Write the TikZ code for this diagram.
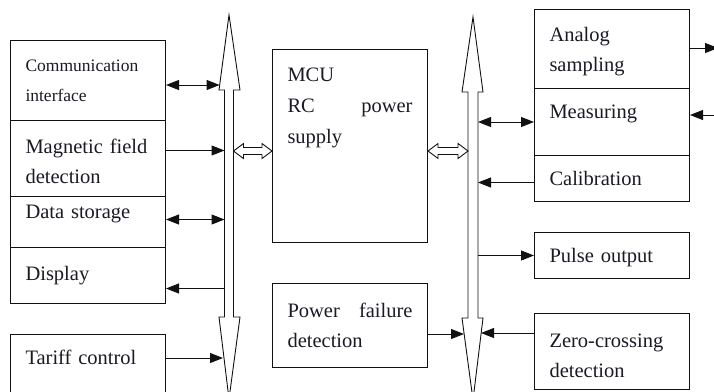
\documentclass[tikz,border=0pt]{standalone}
\usepackage{fontspec}
\setmainfont{Liberation Serif}
\usepackage{tikz}
\usetikzlibrary{arrows.meta, positioning, calc}
\definecolor{LineInk}{HTML}{111111}
\definecolor{TextInk}{HTML}{1A1A24}

\begin{document}
\begin{tikzpicture}[
    x=1pt, y=-1pt,
    line width=1pt,
    blk/.style={
      rectangle,
      draw=LineInk,
      fill=white,
      anchor=north west,
      inner xsep=15pt,
      inner ysep=0pt,
      text width=125pt,
      align=left,
      text=TextInk,
      font=\fontsize{20.5pt}{30pt}\selectfont,
    },
    txt/.style={
      inner sep=0pt,
      text width=125pt,
      align=left,
      text=TextInk,
      font=\fontsize{20.5pt}{31pt}\selectfont,
    },
    bus/.style={draw=LineInk, fill=white, line width=0.9pt, line join=miter},
    sig/.style={draw=LineInk, -{Triangle[length=13pt,width=10pt]}},
    duo/.style={draw=LineInk, {Triangle[length=13pt,width=10pt]}-{Triangle[length=13pt,width=10pt]}},
    fat/.style={draw=LineInk, fill=white, line width=0.9pt,
      to path={let \p1=(\tikztostart), \p2=(\tikztotarget) in
        (\x1,\y1) -- ++(10pt,7.5pt) -- ++(0,-4pt) -- (\x2-10pt,\y1+3.5pt) -- ++(0,4pt)
        -- (\x2,\y2) -- ++(-10pt,-7.5pt) -- ++(0,4pt) -- (\x1+10pt,\y1-3.5pt) -- ++(0,-4pt) -- cycle}},
  ]
    \useasboundingbox (0,0) rectangle (714,391);
    \clip (0,0) rectangle (714,391);

    % left column
    \node[blk, minimum height=80pt, font=\fontsize{17.5pt}{30pt}\selectfont] (comm) at (10,40) {Communication\\interface};
    \node[blk, minimum height=76pt, text height=20pt] (magn) at (10,120) {Magnetic field\\detection};
    \node[blk, minimum height=51pt, text depth=20.5pt] (stor) at (10,196) {Data storage};
    \node[blk, minimum height=56pt] (disp) at (10,247) {Display};
    \node[blk, minimum height=62pt, text depth=16pt] (tariff) at (10,334) {Tariff control};

    % middle column
    \node[blk, minimum height=193pt] (mcu) at (272,49) {};
    \node[txt, anchor=north west] (mcutxt) at ([xshift=15pt,yshift=-18pt]mcu.north west) {MCU\\RC\hfill power\\supply};
    \node[blk, minimum height=84pt] (pfail) at (272,283) {Power\hfill failure\\detection};

    % right column
    \node[blk, minimum height=79pt, text height=20pt] (anlg) at (534,9) {Analog\\sampling};
    \node[blk, minimum height=67pt, text depth=20pt] (meas) at (534,88) {Measuring};
    \node[blk, minimum height=46pt] (calib) at (534,155) {Calibration};
    \node[blk, minimum height=46pt, text height=19pt] (pulse) at (534,232) {Pulse output};
    \node[blk, minimum height=76pt, text height=23pt] (zero) at (534,313) {Zero-crossing\\detection};

    % buses
    \draw[bus] (224.5,90) -- (219,90) -- (229,15) -- (240,90) -- (233.5,90)
      -- (233.5,317) -- (240,317) -- (229,399) -- (219,317) -- (224.5,317) -- cycle;
    \draw[bus] (468,92) -- (462,92) -- (473,17) -- (483,92) -- (478,92)
      -- (478,318) -- (483,318) -- (473,400) -- (462,318) -- (468,318) -- cycle;

    % where the links meet the buses
    \coordinate (lbusL) at (224.5,0);
    \coordinate (lbusR) at (233.5,0);
    \coordinate (rbusL) at (468,0);
    \coordinate (rbusR) at (478,0);
    \coordinate (commhit) at (219.6,85);
    \coordinate (tarhit) at (223,358);
    \coordinate (pfhit) at (464,334);
    \coordinate (zerohit) at (481,333);
    \coordinate (anlgout) at (718,48);
    \coordinate (measin) at (714,115);

    % left links
    \draw[duo] (comm.east |- commhit) -- (commhit);
    \draw[sig] ([yshift=8pt]magn.east) -- ([yshift=8pt]magn.east -| lbusL);
    \draw[duo] ([yshift=2.5pt]stor.east) -- ([yshift=2.5pt]stor.east -| lbusL);
    \draw[sig] ([yshift=-13pt]disp.east -| lbusL) -- ([yshift=-13pt]disp.east);
    \draw[sig] (tariff.east |- tarhit) -- (tarhit);

    % to and from the MCU
    \draw[fat] ([yshift=-5pt]mcu.west -| lbusR) to ([yshift=-5pt]mcu.west);
    \draw[fat] ([yshift=-5pt]mcu.east) to ([yshift=-5pt]mcu.east -| rbusL);
    \draw[sig] (pfail.east |- pfhit) -- (pfhit);

    % right links
    \draw[duo] (meas.west -| rbusR) -- (meas.west);
    \draw[sig] ([yshift=-4pt]calib.west) -- ([yshift=-4pt]calib.west -| rbusR);
    \draw[sig] (pulse.west -| rbusR) -- (pulse.west);
    \draw[sig] (zero.west |- zerohit) -- (zerohit);
    \draw[sig] (anlg.east |- anlgout) -- (anlgout);
    \draw[sig] (measin) -- (meas.east |- measin);
  \end{tikzpicture}
\end{document}
